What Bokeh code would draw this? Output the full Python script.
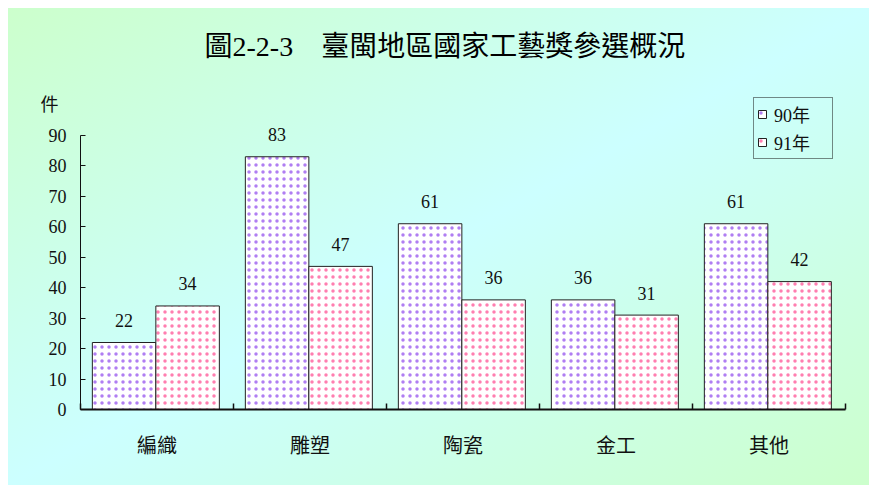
import numpy as np
from bokeh.plotting import figure
from bokeh.models import (ColumnDataSource, FixedTicker, Range1d, LabelSet,
                          Legend, LegendItem, Title, LinearAxis)
from bokeh.transform import dodge
from bokeh.embed import file_html
from bokeh.resources import INLINE

# ---- data ----
categories = ["編織", "雕塑", "陶瓷", "金工", "其他"]
series_names = ["90年", "91年"]
values_90 = [22, 83, 61, 36, 61]
values_91 = [34, 47, 36, 31, 42]
y_ticks = [0, 10, 20, 30, 40, 50, 60, 70, 80, 90]

title_text = "圖2-2-3　臺閩地區國家工藝獎參選概況"
unit_text = "件"

MIX = "'Liberation Serif', 'Noto Sans CJK TC'"
CJK = "'Noto Sans CJK TC'"
SERIF = "'Liberation Serif'"

pos = np.arange(len(categories)) + 0.5
src = ColumnDataSource(dict(
    x=pos,
    v90=values_90,
    v91=values_91,
    t90=[str(v) for v in values_90],
    t91=[str(v) for v in values_91],
))

p = figure(width=869, height=485, output_backend="svg", toolbar_location=None,
           x_range=Range1d(0, len(categories)), y_range=Range1d(0, 106.4),
           min_border_left=80, min_border_right=24, min_border_top=85,
           min_border_bottom=76)
p.title = None
p.styles = {"background": "linear-gradient(to bottom right, #ccffcc 0%, #ccffff 50%, #ccffcc 100%) "
                          "8px 8px / calc(100% - 8px) calc(100% - 8px) no-repeat, #ffffff"}
p.border_fill_alpha = 0
p.background_fill_alpha = 0
p.outline_line_color = None
p.grid.visible = False

# title
t = Title(text=title_text, text_font=MIX, text_font_size="28px",
          text_font_style="normal", text_color="#000000", align="left",
          offset=124, standoff=48)
p.add_layout(t, "above")

r90 = p.vbar(x=dodge("x", -0.215, range=p.x_range), top="v90", width=0.415, source=src,
             fill_color="white", line_color="#222222", line_width=1,
             hatch_pattern="dot", hatch_color="#b07ef2", hatch_scale=7, hatch_weight=3)
r91 = p.vbar(x=dodge("x", 0.2, range=p.x_range), top="v91", width=0.415, source=src,
             fill_color="white", line_color="#222222", line_width=1,
             hatch_pattern="dot", hatch_color="#ff7eb0", hatch_scale=7, hatch_weight=3)

for col, off in (("90", -0.215), ("91", 0.2)):
    ls = LabelSet(x=dodge("x", off, range=p.x_range), y="v" + col, text="t" + col,
                  source=src, text_align="center", text_baseline="middle",
                  y_offset=22, text_font_size="18px", text_font=SERIF,
                  text_color="#111111")
    p.add_layout(ls)

# y axis
ya = p.yaxis[0]
ya.bounds = (y_ticks[0], y_ticks[-1])
ya.ticker = FixedTicker(ticks=y_ticks, minor_ticks=[])
ya.major_tick_in = 5
ya.major_tick_out = 0
ya.minor_tick_line_color = None
ya.axis_line_color = "#111111"
ya.major_tick_line_color = "#111111"
ya.major_label_text_font = SERIF
ya.major_label_text_font_size = "18px"
ya.major_label_text_color = "#111111"
ya.major_label_standoff = 14

# unit label as an outer, line-less axis
unit_pos = 100.5
ua = LinearAxis(ticker=FixedTicker(ticks=[unit_pos], minor_ticks=[]),
                major_label_overrides={unit_pos: unit_text},
                axis_line_color=None, major_tick_line_color=None,
                minor_tick_line_color=None, major_label_standoff=-19,
                major_label_text_font=CJK, major_label_text_font_size="18px",
                major_label_text_color="#111111")
p.add_layout(ua, "left")

# x axis
xa = p.xaxis[0]
xa.ticker = FixedTicker(ticks=list(pos), minor_ticks=list(range(len(categories) + 1)))
xa.major_label_overrides = {float(x): c for x, c in zip(pos, categories)}
xa.major_tick_line_color = None
xa.minor_tick_in = 6
xa.minor_tick_out = 0
xa.minor_tick_line_color = "#111111"
xa.minor_tick_line_width = 1.5
xa.axis_line_color = "#111111"
xa.axis_line_width = 2
xa.major_label_text_font = CJK
xa.major_label_text_font_size = "20px"
xa.major_label_text_color = "#111111"
xa.major_label_standoff = 14

legend = Legend(items=[LegendItem(label=series_names[0], renderers=[r90]),
                       LegendItem(label=series_names[1], renderers=[r91])],
                location="top_right", margin=12, padding=3, spacing=2,
                glyph_width=10, glyph_height=10, label_height=20, label_width=55,
                label_text_font=MIX, label_text_font_size="18px",
                label_text_color="#111111",
                label_standoff=7, border_line_color="#111111", border_line_width=1,
                background_fill_alpha=0)
p.add_layout(legend)

open("out.html", "w").write(file_html(p, INLINE))
